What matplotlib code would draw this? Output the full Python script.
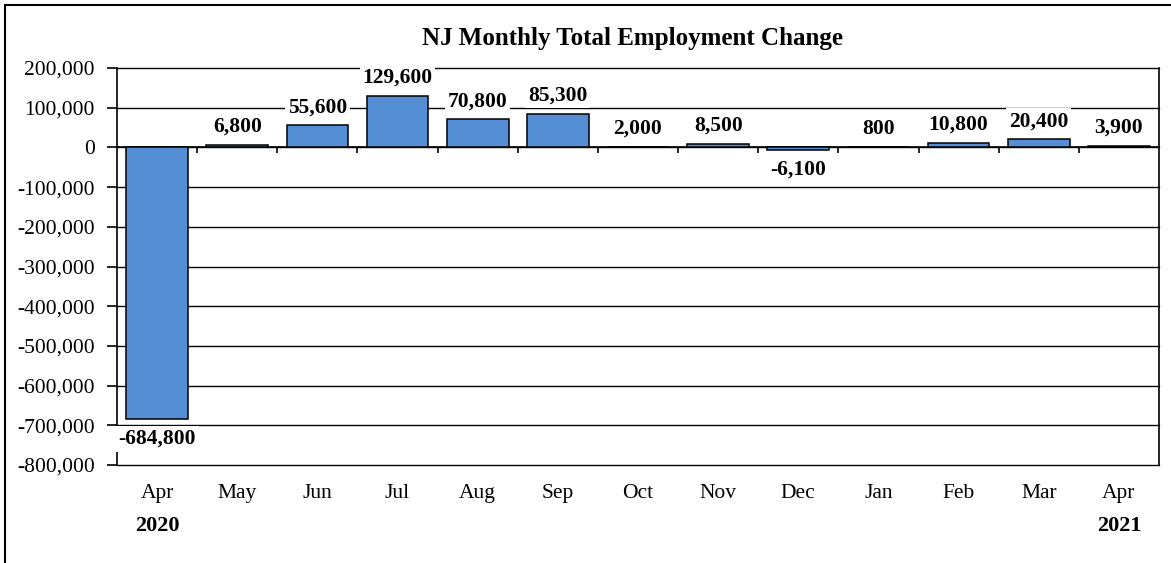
import numpy as np
import matplotlib.pyplot as plt
from matplotlib.ticker import FuncFormatter, MultipleLocator
from matplotlib.patches import Rectangle

plt.rcParams['font.family'] = 'Liberation Serif'

months = ['Apr', 'May', 'Jun', 'Jul', 'Aug', 'Sep', 'Oct', 'Nov', 'Dec',
          'Jan', 'Feb', 'Mar', 'Apr']
values = [-684800, 6800, 55600, 129600, 70800, 85300, 2000, 8500, -6100,
          800, 10800, 20400, 3900]
year_pos = [0, 12]
year_txt = ['2020', '2021']

W, H = 1171, 563
fig = plt.figure(figsize=(W / 100, H / 100), dpi=100)
ax = fig.add_axes([117 / W, 98 / H, (1159 - 117) / W, (465 - 68) / H])

x = np.arange(len(values))
ax.bar(x, values, width=0.77, color='#558ed5', edgecolor='black',
       linewidth=1.1, zorder=3)

ax.set_xlim(-0.5, len(values) - 0.5)
ax.set_ylim(-800000, 200000)
ax.yaxis.set_major_locator(MultipleLocator(100000))
ax.yaxis.set_major_formatter(FuncFormatter(lambda v, p: f'{v:,.0f}'))
ax.grid(axis='y', color='black', linewidth=1.0, clip_on=False)
ax.set_axisbelow(True)

ax.spines['top'].set_visible(False)
ax.spines['bottom'].set_position(('data', 0))
for s in ['left', 'right', 'bottom']:
    ax.spines[s].set_linewidth(1.2)

ax.tick_params(axis='y', direction='out', length=7, width=1.2,
               labelsize=15.5, pad=9)
ax.set_xticks(x)
ax.set_xticklabels([])
ax.set_xticks(x[:-1] + 0.5, minor=True)
ax.tick_params(axis='x', which='major', length=0)
ax.tick_params(axis='x', which='minor', direction='out', length=4, width=1.2)

sec = ax.secondary_xaxis(0)
sec.set_xticks(x, months)
sec.tick_params(length=0, pad=14, labelsize=15.5)
sec.spines['bottom'].set_visible(False)

for xi, v in zip(x, values):
    off = 13 if v >= 0 else -14
    ax.annotate(f'{v:,}', (xi, v), xytext=(0, off), textcoords='offset points',
                ha='center', va='center', fontsize=15.5, fontweight='bold',
                bbox=dict(facecolor='white', edgecolor='none', pad=2),
                zorder=4, annotation_clip=False)

for xp, t in zip(year_pos, year_txt):
    ax.text(xp, -61 / 397, t, transform=ax.get_xaxis_transform(),
            ha='center', va='center', fontsize=16, fontweight='bold')

fig.text(633 / W, 1 - 38 / H, 'NJ Monthly Total Employment Change',
         ha='center', va='center', fontsize=18, fontweight='bold')

fig.add_artist(Rectangle((5 / W, -0.1), 1.2, 1 - 5 / H + 0.1,
                         transform=fig.transFigure, fill=False,
                         edgecolor='black', linewidth=1.5))

fig.savefig('out.png', dpi=100)
